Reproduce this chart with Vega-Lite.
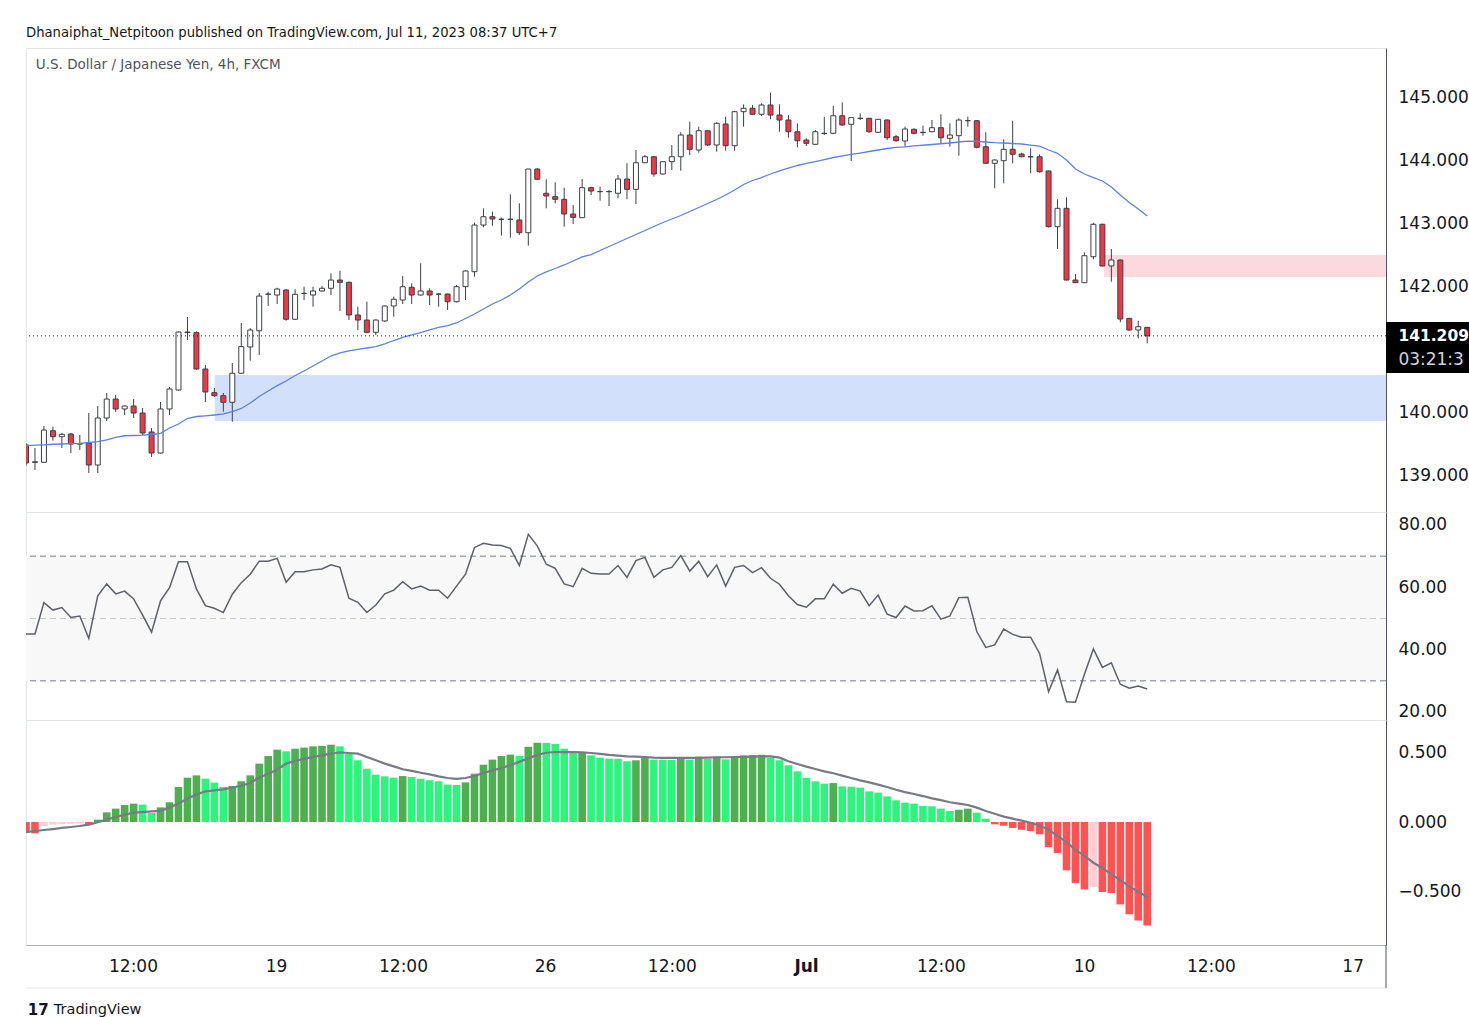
{
"$schema": "https://vega.github.io/schema/vega-lite/v6.json",
"background": "#ffffff",
"padding": {"left": 25, "top": 25, "right": 0, "bottom": 0},
"bounds": "flush",
"spacing": 0,
"title": {"text": "Dhanaiphat_Netpitoon published on TradingView.com, Jul 11, 2023 08:37 UTC+7", "anchor": "start", "frame": "group", "font": "DejaVu Sans", "fontSize": 13.2, "fontWeight": "normal", "color": "#131722", "offset": 7.5},
"config": {
  "font": "DejaVu Sans",
  "view": {"stroke": "#e0e3eb", "strokeWidth": 1},
  "axis": {"grid": false, "ticks": false, "title": null, "labelFont": "DejaVu Sans", "labelFontSize": 17, "labelColor": "#131722", "domainColor": "#50535e", "domainWidth": 1}
},
"datasets": {"d": [
{"i":0,"o":139.477,"h":139.508,"l":139.143,"c":139.191,"ma":139.465,"rsi":45.0,"hist":-0.080,"sig":-0.072,"st":"fb"},
{"i":1,"o":139.200,"h":139.429,"l":139.080,"c":139.210,"ma":139.473,"rsi":45.0,"hist":-0.082,"sig":-0.065,"st":"fb"},
{"i":2,"o":139.202,"h":139.778,"l":139.190,"c":139.714,"ma":139.480,"rsi":55.1,"hist":-0.030,"sig":-0.058,"st":"gb"},
{"i":3,"o":139.703,"h":139.767,"l":139.545,"c":139.608,"ma":139.488,"rsi":52.7,"hist":-0.018,"sig":-0.051,"st":"gb"},
{"i":4,"o":139.608,"h":139.667,"l":139.429,"c":139.646,"ma":139.492,"rsi":53.5,"hist":-0.014,"sig":-0.043,"st":"gb"},
{"i":5,"o":139.651,"h":139.667,"l":139.349,"c":139.492,"ma":139.499,"rsi":50.3,"hist":-0.012,"sig":-0.036,"st":"gb"},
{"i":6,"o":139.490,"h":139.635,"l":139.397,"c":139.500,"ma":139.503,"rsi":50.8,"hist":-0.010,"sig":-0.029,"st":"gb"},
{"i":7,"o":139.508,"h":139.984,"l":139.032,"c":139.159,"ma":139.516,"rsi":43.6,"hist":-0.022,"sig":-0.019,"st":"fb"},
{"i":8,"o":139.159,"h":140.095,"l":139.032,"c":139.905,"ma":139.529,"rsi":57.3,"hist":0.017,"sig":-0.002,"st":"ga"},
{"i":9,"o":139.905,"h":140.302,"l":139.857,"c":140.206,"ma":139.556,"rsi":61.1,"hist":0.070,"sig":0.017,"st":"ga"},
{"i":10,"o":140.206,"h":140.270,"l":140.000,"c":140.048,"ma":139.596,"rsi":57.9,"hist":0.097,"sig":0.036,"st":"ga"},
{"i":11,"o":140.048,"h":140.100,"l":139.952,"c":140.095,"ma":139.623,"rsi":58.8,"hist":0.123,"sig":0.053,"st":"ga"},
{"i":12,"o":140.095,"h":140.206,"l":139.905,"c":139.984,"ma":139.627,"rsi":56.3,"hist":0.133,"sig":0.068,"st":"ga"},
{"i":13,"o":139.984,"h":140.064,"l":139.635,"c":139.667,"ma":139.632,"rsi":51.1,"hist":0.126,"sig":0.072,"st":"fa"},
{"i":14,"o":139.683,"h":139.746,"l":139.286,"c":139.349,"ma":139.643,"rsi":45.6,"hist":0.065,"sig":0.077,"st":"fa"},
{"i":15,"o":139.349,"h":140.159,"l":139.340,"c":140.048,"ma":139.662,"rsi":55.7,"hist":0.106,"sig":0.080,"st":"ga"},
{"i":16,"o":140.048,"h":140.397,"l":139.952,"c":140.365,"ma":139.746,"rsi":59.9,"hist":0.143,"sig":0.106,"st":"ga"},
{"i":17,"o":140.349,"h":141.280,"l":140.340,"c":141.270,"ma":139.810,"rsi":68.2,"hist":0.254,"sig":0.133,"st":"ga"},
{"i":18,"o":141.270,"h":141.508,"l":141.143,"c":141.260,"ma":139.897,"rsi":68.2,"hist":0.321,"sig":0.171,"st":"ga"},
{"i":19,"o":141.260,"h":141.280,"l":140.670,"c":140.683,"ma":139.929,"rsi":59.5,"hist":0.338,"sig":0.200,"st":"ga"},
{"i":20,"o":140.683,"h":140.746,"l":140.159,"c":140.318,"ma":139.940,"rsi":54.1,"hist":0.314,"sig":0.222,"st":"fa"},
{"i":21,"o":140.307,"h":140.381,"l":140.238,"c":140.259,"ma":139.953,"rsi":53.3,"hist":0.285,"sig":0.229,"st":"fa"},
{"i":22,"o":140.259,"h":140.302,"l":140.005,"c":140.154,"ma":139.969,"rsi":51.9,"hist":0.254,"sig":0.237,"st":"fa"},
{"i":23,"o":140.154,"h":140.778,"l":139.846,"c":140.615,"ma":140.008,"rsi":57.8,"hist":0.261,"sig":0.249,"st":"ga"},
{"i":24,"o":140.615,"h":141.413,"l":140.610,"c":141.037,"ma":140.056,"rsi":61.5,"hist":0.295,"sig":0.263,"st":"ga"},
{"i":25,"o":141.032,"h":141.333,"l":140.814,"c":141.302,"ma":140.143,"rsi":64.2,"hist":0.338,"sig":0.283,"st":"ga"},
{"i":26,"o":141.290,"h":141.889,"l":140.905,"c":141.841,"ma":140.246,"rsi":68.4,"hist":0.423,"sig":0.321,"st":"ga"},
{"i":27,"o":141.870,"h":141.910,"l":141.683,"c":141.873,"ma":140.334,"rsi":68.4,"hist":0.478,"sig":0.350,"st":"ga"},
{"i":28,"o":141.857,"h":141.973,"l":141.714,"c":141.952,"ma":140.418,"rsi":69.3,"hist":0.524,"sig":0.379,"st":"ga"},
{"i":29,"o":141.937,"h":141.950,"l":141.450,"c":141.472,"ma":140.492,"rsi":61.6,"hist":0.512,"sig":0.423,"st":"fa"},
{"i":30,"o":141.472,"h":141.948,"l":141.460,"c":141.869,"ma":140.580,"rsi":65.0,"hist":0.531,"sig":0.442,"st":"ga"},
{"i":31,"o":141.880,"h":141.989,"l":141.778,"c":141.884,"ma":140.651,"rsi":65.0,"hist":0.539,"sig":0.457,"st":"ga"},
{"i":32,"o":141.857,"h":141.989,"l":141.672,"c":141.921,"ma":140.731,"rsi":65.6,"hist":0.548,"sig":0.471,"st":"ga"},
{"i":33,"o":141.921,"h":142.000,"l":141.910,"c":141.964,"ma":140.810,"rsi":65.9,"hist":0.552,"sig":0.483,"st":"ga"},
{"i":34,"o":141.964,"h":142.202,"l":141.857,"c":142.095,"ma":140.889,"rsi":67.2,"hist":0.560,"sig":0.495,"st":"ga"},
{"i":35,"o":142.095,"h":142.243,"l":141.603,"c":142.059,"ma":140.937,"rsi":66.4,"hist":0.548,"sig":0.505,"st":"fa"},
{"i":36,"o":142.059,"h":142.070,"l":141.460,"c":141.540,"ma":140.969,"rsi":56.5,"hist":0.495,"sig":0.500,"st":"fa"},
{"i":37,"o":141.540,"h":141.672,"l":141.302,"c":141.460,"ma":140.996,"rsi":55.2,"hist":0.447,"sig":0.495,"st":"fa"},
{"i":38,"o":141.460,"h":141.751,"l":141.250,"c":141.265,"ma":141.016,"rsi":51.9,"hist":0.386,"sig":0.471,"st":"fa"},
{"i":39,"o":141.265,"h":141.470,"l":141.222,"c":141.460,"ma":141.037,"rsi":54.3,"hist":0.343,"sig":0.447,"st":"fa"},
{"i":40,"o":141.445,"h":141.690,"l":141.430,"c":141.683,"ma":141.080,"rsi":57.9,"hist":0.331,"sig":0.423,"st":"fa"},
{"i":41,"o":141.683,"h":141.830,"l":141.513,"c":141.789,"ma":141.135,"rsi":59.1,"hist":0.321,"sig":0.403,"st":"fa"},
{"i":42,"o":141.778,"h":142.159,"l":141.714,"c":141.989,"ma":141.183,"rsi":61.8,"hist":0.333,"sig":0.382,"st":"ga"},
{"i":43,"o":141.980,"h":142.043,"l":141.714,"c":141.857,"ma":141.223,"rsi":59.5,"hist":0.326,"sig":0.370,"st":"fa"},
{"i":44,"o":141.857,"h":142.360,"l":141.850,"c":141.921,"ma":141.262,"rsi":60.4,"hist":0.314,"sig":0.357,"st":"fa"},
{"i":45,"o":141.921,"h":141.964,"l":141.698,"c":141.857,"ma":141.302,"rsi":59.1,"hist":0.302,"sig":0.345,"st":"fa"},
{"i":46,"o":141.873,"h":141.884,"l":141.672,"c":141.870,"ma":141.342,"rsi":59.1,"hist":0.295,"sig":0.331,"st":"fa"},
{"i":47,"o":141.873,"h":141.880,"l":141.619,"c":141.751,"ma":141.373,"rsi":56.5,"hist":0.271,"sig":0.319,"st":"fa"},
{"i":48,"o":141.751,"h":142.016,"l":141.740,"c":141.989,"ma":141.413,"rsi":60.4,"hist":0.268,"sig":0.312,"st":"fa"},
{"i":49,"o":141.989,"h":142.250,"l":141.778,"c":142.238,"ma":141.484,"rsi":64.2,"hist":0.287,"sig":0.319,"st":"ga"},
{"i":50,"o":142.227,"h":143.005,"l":142.148,"c":142.968,"ma":141.556,"rsi":72.8,"hist":0.350,"sig":0.333,"st":"ga"},
{"i":51,"o":142.968,"h":143.233,"l":142.932,"c":143.100,"ma":141.635,"rsi":74.1,"hist":0.415,"sig":0.355,"st":"ga"},
{"i":52,"o":143.100,"h":143.180,"l":142.957,"c":143.064,"ma":141.715,"rsi":73.6,"hist":0.452,"sig":0.374,"st":"ga"},
{"i":53,"o":143.060,"h":143.090,"l":142.799,"c":143.058,"ma":141.778,"rsi":73.4,"hist":0.478,"sig":0.391,"st":"ga"},
{"i":54,"o":143.058,"h":143.456,"l":142.767,"c":143.060,"ma":141.858,"rsi":72.5,"hist":0.488,"sig":0.411,"st":"ga"},
{"i":55,"o":143.048,"h":143.313,"l":142.810,"c":142.846,"ma":141.953,"rsi":67.0,"hist":0.478,"sig":0.437,"st":"fa"},
{"i":56,"o":142.846,"h":143.860,"l":142.640,"c":143.857,"ma":142.064,"rsi":77.0,"hist":0.545,"sig":0.461,"st":"ga"},
{"i":57,"o":143.857,"h":143.870,"l":143.690,"c":143.694,"ma":142.159,"rsi":73.3,"hist":0.575,"sig":0.486,"st":"ga"},
{"i":58,"o":143.472,"h":143.694,"l":143.233,"c":143.429,"ma":142.223,"rsi":67.4,"hist":0.573,"sig":0.502,"st":"fa"},
{"i":59,"o":143.418,"h":143.646,"l":143.313,"c":143.376,"ma":142.278,"rsi":66.1,"hist":0.566,"sig":0.507,"st":"fa"},
{"i":60,"o":143.376,"h":143.561,"l":142.942,"c":143.143,"ma":142.334,"rsi":61.1,"hist":0.531,"sig":0.507,"st":"fa"},
{"i":61,"o":143.143,"h":143.286,"l":142.984,"c":143.090,"ma":142.397,"rsi":60.2,"hist":0.500,"sig":0.507,"st":"fa"},
{"i":62,"o":143.085,"h":143.698,"l":143.080,"c":143.561,"ma":142.461,"rsi":66.1,"hist":0.503,"sig":0.505,"st":"ga"},
{"i":63,"o":143.561,"h":143.577,"l":143.444,"c":143.508,"ma":142.500,"rsi":64.5,"hist":0.483,"sig":0.500,"st":"fa"},
{"i":64,"o":143.497,"h":143.577,"l":143.354,"c":143.500,"ma":142.564,"rsi":64.3,"hist":0.466,"sig":0.493,"st":"fa"},
{"i":65,"o":143.500,"h":143.524,"l":143.270,"c":143.497,"ma":142.627,"rsi":64.3,"hist":0.459,"sig":0.486,"st":"fa"},
{"i":66,"o":143.472,"h":143.762,"l":143.392,"c":143.698,"ma":142.691,"rsi":67.0,"hist":0.458,"sig":0.481,"st":"fa"},
{"i":67,"o":143.698,"h":143.948,"l":143.376,"c":143.535,"ma":142.754,"rsi":63.2,"hist":0.440,"sig":0.476,"st":"fa"},
{"i":68,"o":143.535,"h":144.159,"l":143.302,"c":143.957,"ma":142.818,"rsi":68.6,"hist":0.447,"sig":0.473,"st":"ga"},
{"i":69,"o":143.957,"h":144.079,"l":143.950,"c":144.052,"ma":142.881,"rsi":69.6,"hist":0.464,"sig":0.471,"st":"ga"},
{"i":70,"o":144.052,"h":144.060,"l":143.735,"c":143.778,"ma":142.945,"rsi":63.2,"hist":0.452,"sig":0.466,"st":"fa"},
{"i":71,"o":143.778,"h":143.980,"l":143.770,"c":143.973,"ma":143.008,"rsi":65.6,"hist":0.451,"sig":0.464,"st":"fa"},
{"i":72,"o":143.973,"h":144.238,"l":143.841,"c":144.052,"ma":143.064,"rsi":66.4,"hist":0.450,"sig":0.464,"st":"fa"},
{"i":73,"o":144.052,"h":144.440,"l":143.830,"c":144.397,"ma":143.119,"rsi":70.2,"hist":0.457,"sig":0.464,"st":"ga"},
{"i":74,"o":144.397,"h":144.608,"l":144.079,"c":144.170,"ma":143.183,"rsi":65.2,"hist":0.452,"sig":0.464,"st":"fa"},
{"i":75,"o":144.159,"h":144.529,"l":144.116,"c":144.465,"ma":143.246,"rsi":68.4,"hist":0.473,"sig":0.464,"st":"ga"},
{"i":76,"o":144.465,"h":144.470,"l":144.222,"c":144.238,"ma":143.310,"rsi":63.4,"hist":0.457,"sig":0.466,"st":"fa"},
{"i":77,"o":144.238,"h":144.599,"l":144.132,"c":144.583,"ma":143.373,"rsi":67.2,"hist":0.473,"sig":0.469,"st":"ga"},
{"i":78,"o":144.572,"h":144.687,"l":144.148,"c":144.227,"ma":143.445,"rsi":60.4,"hist":0.454,"sig":0.469,"st":"fa"},
{"i":79,"o":144.227,"h":144.780,"l":144.148,"c":144.767,"ma":143.524,"rsi":66.4,"hist":0.471,"sig":0.471,"st":"ga"},
{"i":80,"o":144.767,"h":144.884,"l":144.529,"c":144.821,"ma":143.611,"rsi":67.0,"hist":0.483,"sig":0.471,"st":"ga"},
{"i":81,"o":144.821,"h":144.873,"l":144.714,"c":144.726,"ma":143.675,"rsi":64.7,"hist":0.485,"sig":0.473,"st":"ga"},
{"i":82,"o":144.726,"h":144.900,"l":144.698,"c":144.873,"ma":143.722,"rsi":66.3,"hist":0.487,"sig":0.476,"st":"ga"},
{"i":83,"o":144.873,"h":145.068,"l":144.646,"c":144.714,"ma":143.778,"rsi":62.9,"hist":0.466,"sig":0.476,"st":"fa"},
{"i":84,"o":144.714,"h":144.884,"l":144.449,"c":144.635,"ma":143.826,"rsi":61.0,"hist":0.447,"sig":0.466,"st":"fa"},
{"i":85,"o":144.635,"h":144.714,"l":144.354,"c":144.449,"ma":143.873,"rsi":57.3,"hist":0.411,"sig":0.440,"st":"fa"},
{"i":86,"o":144.449,"h":144.583,"l":144.202,"c":144.306,"ma":143.913,"rsi":54.5,"hist":0.367,"sig":0.420,"st":"fa"},
{"i":87,"o":144.317,"h":144.344,"l":144.222,"c":144.265,"ma":143.945,"rsi":53.6,"hist":0.321,"sig":0.401,"st":"fa"},
{"i":88,"o":144.249,"h":144.476,"l":144.238,"c":144.449,"ma":143.976,"rsi":56.3,"hist":0.295,"sig":0.384,"st":"fa"},
{"i":89,"o":144.424,"h":144.687,"l":144.397,"c":144.420,"ma":144.008,"rsi":56.3,"hist":0.278,"sig":0.367,"st":"fa"},
{"i":90,"o":144.424,"h":144.862,"l":144.410,"c":144.703,"ma":144.040,"rsi":61.0,"hist":0.282,"sig":0.353,"st":"ga"},
{"i":91,"o":144.703,"h":144.916,"l":144.545,"c":144.556,"ma":144.064,"rsi":58.1,"hist":0.258,"sig":0.336,"st":"fa"},
{"i":92,"o":144.567,"h":144.680,"l":143.984,"c":144.672,"ma":144.088,"rsi":59.7,"hist":0.256,"sig":0.319,"st":"fa"},
{"i":93,"o":144.660,"h":144.741,"l":144.635,"c":144.662,"ma":144.111,"rsi":58.8,"hist":0.249,"sig":0.302,"st":"fa"},
{"i":94,"o":144.662,"h":144.670,"l":144.433,"c":144.449,"ma":144.135,"rsi":54.1,"hist":0.222,"sig":0.287,"st":"fa"},
{"i":95,"o":144.440,"h":144.650,"l":144.430,"c":144.646,"ma":144.159,"rsi":57.5,"hist":0.213,"sig":0.271,"st":"fa"},
{"i":96,"o":144.635,"h":144.646,"l":144.317,"c":144.354,"ma":144.183,"rsi":51.4,"hist":0.186,"sig":0.254,"st":"fa"},
{"i":97,"o":144.370,"h":144.397,"l":144.290,"c":144.306,"ma":144.202,"rsi":50.3,"hist":0.157,"sig":0.234,"st":"fa"},
{"i":98,"o":144.302,"h":144.529,"l":144.211,"c":144.492,"ma":144.210,"rsi":54.0,"hist":0.140,"sig":0.217,"st":"fa"},
{"i":99,"o":144.487,"h":144.503,"l":144.408,"c":144.424,"ma":144.223,"rsi":52.4,"hist":0.133,"sig":0.203,"st":"fa"},
{"i":100,"o":144.440,"h":144.545,"l":144.386,"c":144.435,"ma":144.234,"rsi":52.5,"hist":0.116,"sig":0.188,"st":"fa"},
{"i":101,"o":144.449,"h":144.635,"l":144.440,"c":144.513,"ma":144.246,"rsi":54.1,"hist":0.114,"sig":0.171,"st":"fa"},
{"i":102,"o":144.513,"h":144.726,"l":144.265,"c":144.354,"ma":144.258,"rsi":49.8,"hist":0.097,"sig":0.159,"st":"fa"},
{"i":103,"o":144.344,"h":144.583,"l":144.211,"c":144.397,"ma":144.270,"rsi":50.8,"hist":0.080,"sig":0.143,"st":"fa"},
{"i":104,"o":144.386,"h":144.662,"l":144.068,"c":144.635,"ma":144.286,"rsi":56.7,"hist":0.089,"sig":0.133,"st":"ga"},
{"i":105,"o":144.625,"h":144.687,"l":144.529,"c":144.624,"ma":144.299,"rsi":56.8,"hist":0.097,"sig":0.123,"st":"ga"},
{"i":106,"o":144.624,"h":144.630,"l":144.186,"c":144.202,"ma":144.297,"rsi":45.8,"hist":0.068,"sig":0.104,"st":"fa"},
{"i":107,"o":144.211,"h":144.440,"l":143.937,"c":143.948,"ma":144.286,"rsi":40.7,"hist":0.024,"sig":0.080,"st":"fa"},
{"i":108,"o":143.948,"h":144.010,"l":143.551,"c":144.000,"ma":144.275,"rsi":41.5,"hist":-0.017,"sig":0.060,"st":"fb"},
{"i":109,"o":143.989,"h":144.329,"l":143.630,"c":144.170,"ma":144.270,"rsi":46.6,"hist":-0.027,"sig":0.039,"st":"fb"},
{"i":110,"o":144.170,"h":144.624,"l":143.948,"c":144.091,"ma":144.262,"rsi":44.9,"hist":-0.043,"sig":0.024,"st":"fb"},
{"i":111,"o":144.095,"h":144.116,"l":144.043,"c":144.052,"ma":144.254,"rsi":44.0,"hist":-0.056,"sig":0.010,"st":"fb"},
{"i":112,"o":144.052,"h":144.186,"l":143.789,"c":144.050,"ma":144.238,"rsi":44.0,"hist":-0.065,"sig":-0.005,"st":"fb"},
{"i":113,"o":144.052,"h":144.090,"l":143.800,"c":143.814,"ma":144.219,"rsi":38.8,"hist":-0.089,"sig":-0.027,"st":"fb"},
{"i":114,"o":143.826,"h":143.830,"l":142.930,"c":142.942,"ma":144.159,"rsi":26.5,"hist":-0.181,"sig":-0.056,"st":"fb"},
{"i":115,"o":142.942,"h":143.376,"l":142.588,"c":143.233,"ma":144.107,"rsi":33.5,"hist":-0.225,"sig":-0.101,"st":"fb"},
{"i":116,"o":143.233,"h":143.408,"l":142.090,"c":142.095,"ma":144.000,"rsi":23.3,"hist":-0.350,"sig":-0.145,"st":"fb"},
{"i":117,"o":142.095,"h":142.191,"l":142.050,"c":142.053,"ma":143.858,"rsi":23.1,"hist":-0.442,"sig":-0.200,"st":"fb"},
{"i":118,"o":142.053,"h":142.535,"l":142.050,"c":142.481,"ma":143.778,"rsi":32.1,"hist":-0.488,"sig":-0.246,"st":"fb"},
{"i":119,"o":142.465,"h":143.005,"l":142.424,"c":142.980,"ma":143.722,"rsi":40.2,"hist":-0.471,"sig":-0.295,"st":"gb"},
{"i":120,"o":142.980,"h":142.990,"l":142.307,"c":142.318,"ma":143.667,"rsi":34.3,"hist":-0.507,"sig":-0.333,"st":"fb"},
{"i":121,"o":142.318,"h":142.587,"l":142.068,"c":142.413,"ma":143.572,"rsi":35.8,"hist":-0.514,"sig":-0.379,"st":"fb"},
{"i":122,"o":142.413,"h":142.420,"l":141.424,"c":141.476,"ma":143.445,"rsi":28.9,"hist":-0.597,"sig":-0.420,"st":"fb"},
{"i":123,"o":141.487,"h":141.490,"l":141.291,"c":141.302,"ma":143.326,"rsi":27.6,"hist":-0.669,"sig":-0.466,"st":"fb"},
{"i":124,"o":141.302,"h":141.450,"l":141.170,"c":141.354,"ma":143.223,"rsi":28.3,"hist":-0.713,"sig":-0.505,"st":"fb"},
{"i":125,"o":141.344,"h":141.350,"l":141.090,"c":141.209,"ma":143.111,"rsi":27.4,"hist":-0.749,"sig":-0.543,"st":"fb"}
]},
"vconcat": [
{
  "width": 1360, "height": 464,
  "layer": [
    {"data": {"values": [{}]}, "mark": {"type": "rect", "color": "#d3e0fb"},
     "encoding": {
       "x": {"datum": 21.04, "type": "quantitative", "scale": {"domain": [0, 151.62], "nice": false, "zero": false, "padding": 0}, "axis": null},
       "x2": {"datum": 151.62},
       "y": {"datum": 140.587, "type": "quantitative", "scale": {"domain": [138.413, 145.778], "nice": false, "zero": false, "padding": 0}, "axis": {"orient": "right", "values": [139, 140, 142, 143, 144, 145], "format": ".3f", "labelPadding": 12}},
       "y2": {"datum": 139.857}}},
    {"data": {"values": [{}]}, "mark": {"type": "rect", "color": "#fcd9dc"},
     "encoding": {"x": {"datum": 120.2, "type": "quantitative"}, "x2": {"datum": 151.62}, "y": {"datum": 142.492, "type": "quantitative"}, "y2": {"datum": 142.143}}},
    {"data": {"name": "d"}, "mark": {"type": "rule", "color": "#3c3f48", "strokeWidth": 1, "clip": true},
     "encoding": {"x": {"field": "i", "type": "quantitative"}, "y": {"field": "l", "type": "quantitative"}, "y2": {"field": "h"}}},
    {"data": {"name": "d"}, "mark": {"type": "bar", "size": 5, "stroke": "#3c3f48", "strokeWidth": 1, "clip": true},
     "encoding": {"x": {"field": "i", "type": "quantitative"}, "y": {"field": "o", "type": "quantitative"}, "y2": {"field": "c"},
       "fill": {"condition": {"test": "datum.c >= datum.o", "value": "#ffffff"}, "value": "#f23645"}}},
    {"data": {"name": "d"}, "mark": {"type": "line", "color": "#5b82e3", "strokeWidth": 1.3, "clip": true},
     "encoding": {"x": {"field": "i", "type": "quantitative"}, "y": {"field": "ma", "type": "quantitative"}}},
    {"data": {"values": [{}]}, "mark": {"type": "rule", "color": "#131722", "strokeDash": [1, 3], "strokeWidth": 1},
     "encoding": {"y": {"datum": 141.209, "type": "quantitative"}}},
    {"data": {"values": [{}]}, "mark": {"type": "text", "align": "left", "baseline": "middle", "fontSize": 13.5, "color": "#50535e"},
     "encoding": {"x": {"datum": 1.1, "type": "quantitative"}, "y": {"datum": 145.508, "type": "quantitative"}, "text": {"value": "U.S. Dollar / Japanese Yen, 4h, FXCM"}}},
    {"data": {"values": [{}]}, "mark": {"type": "rect", "color": "#000000"},
     "encoding": {"x": {"datum": 151.62, "type": "quantitative"}, "x2": {"datum": 160.9}, "y": {"datum": 141.429, "type": "quantitative"}, "y2": {"datum": 140.619}}},
    {"data": {"values": [{}]}, "mark": {"type": "text", "align": "left", "baseline": "middle", "fontSize": 15.5, "fontWeight": "bold", "color": "#ffffff"},
     "encoding": {"x": {"datum": 153.0, "type": "quantitative"}, "y": {"datum": 141.209, "type": "quantitative"}, "text": {"value": "141.209"}}},
    {"data": {"values": [{}]}, "mark": {"type": "text", "align": "left", "baseline": "middle", "fontSize": 17, "color": "#d1d4dc", "limit": 71, "ellipsis": "\u200b"},
     "encoding": {"x": {"datum": 153.0, "type": "quantitative"}, "y": {"datum": 140.825, "type": "quantitative"}, "text": {"value": "03:21:38"}}}
  ]
},
{
  "width": 1360, "height": 208,
  "layer": [
    {"data": {"values": [{}]}, "mark": {"type": "rect", "color": "#f8f8f9"},
     "encoding": {"y": {"datum": 70, "type": "quantitative", "scale": {"domain": [17.43, 84.17], "nice": false, "zero": false, "padding": 0}, "axis": {"orient": "right", "values": [20, 40, 60, 80], "format": ".2f", "labelPadding": 12}}, "y2": {"datum": 30}}},
    {"data": {"values": [{"v": 70}, {"v": 30}]}, "mark": {"type": "rule", "color": "#787b86", "strokeDash": [6, 4], "strokeWidth": 1},
     "encoding": {"y": {"field": "v", "type": "quantitative"}}},
    {"data": {"values": [{"v": 50}]}, "mark": {"type": "rule", "color": "#c3c5cb", "strokeDash": [6, 4], "strokeWidth": 1},
     "encoding": {"y": {"field": "v", "type": "quantitative"}}},
    {"data": {"name": "d"}, "mark": {"type": "line", "color": "#5d606b", "strokeWidth": 1.5, "clip": true},
     "encoding": {"x": {"field": "i", "type": "quantitative", "scale": {"domain": [0, 151.62], "nice": false, "zero": false, "padding": 0}, "axis": null}, "y": {"field": "rsi", "type": "quantitative"}}}
  ]
},
{
  "width": 1360, "height": 225,
  "layer": [
    {"data": {"name": "d"}, "mark": {"type": "bar", "size": 7.6, "clip": true},
     "encoding": {
       "x": {"field": "i", "type": "quantitative", "scale": {"domain": [0, 151.62], "nice": false, "zero": false, "padding": 0},
             "axis": {"orient": "bottom", "values": [11.93, 27.87, 42.03, 57.86, 72.0, 86.96, 102.0, 117.95, 132.1, 147.9],
                      "labelExpr": "datum.value < 20 ? '12:00' : datum.value < 35 ? '19' : datum.value < 50 ? '12:00' : datum.value < 65 ? '26' : datum.value < 80 ? '12:00' : datum.value < 95 ? 'Jul' : datum.value < 110 ? '12:00' : datum.value < 125 ? '10' : datum.value < 140 ? '12:00' : '17'",
                      "labelPadding": 13, "labelFlush": false, "labelOverlap": false, "domainColor": "#b2b5be",
                      "labelFontWeight": {"condition": {"test": "datum.value > 85 && datum.value < 90", "value": "bold"}, "value": "normal"}}},
       "y": {"field": "hist", "type": "quantitative", "scale": {"domain": [-0.891, 0.739], "nice": false, "zero": false, "padding": 0},
             "axis": {"orient": "right", "values": [-0.5, 0, 0.5], "format": ".3f", "labelPadding": 12}},
       "y2": {"datum": 0},
       "color": {"field": "st", "type": "nominal", "scale": {"domain": ["ga", "fa", "gb", "fb"], "range": ["#4caf50", "#2bf57c", "#ffcdd2", "#ff5252"]}, "legend": null}}},
    {"data": {"name": "d"}, "mark": {"type": "line", "color": "#787b86", "strokeWidth": 2.2, "clip": true},
     "encoding": {"x": {"field": "i", "type": "quantitative"}, "y": {"field": "sig", "type": "quantitative"}}},
    {"data": {"values": [{}]}, "mark": {"type": "rule", "color": "#e0e3eb", "strokeWidth": 1},
     "encoding": {"x": {"datum": 0.06, "type": "quantitative"}, "x2": {"datum": 151.62}, "y": {"datum": -1.203, "type": "quantitative"}}},
    {"data": {"values": [{}]}, "mark": {"type": "rule", "color": "#50535e", "strokeWidth": 1},
     "encoding": {"x": {"datum": 151.62, "type": "quantitative"}, "y": {"datum": -0.891, "type": "quantitative"}, "y2": {"datum": -1.203}}},
    {"data": {"values": [{}]}, "mark": {"type": "text", "align": "left", "baseline": "middle", "fontSize": 14.5, "color": "#131722"},
     "encoding": {"x": {"datum": 3.1, "type": "quantitative"}, "y": {"datum": -1.36, "type": "quantitative"}, "text": {"value": "TradingView"}}},
    {"data": {"values": [{}]}, "mark": {"type": "text", "align": "left", "baseline": "middle", "fontSize": 15, "fontWeight": "bold", "color": "#131722"},
     "encoding": {"x": {"datum": 0.2, "type": "quantitative"}, "y": {"datum": -1.36, "type": "quantitative"}, "text": {"value": "17"}}}
  ]
}
]
}
